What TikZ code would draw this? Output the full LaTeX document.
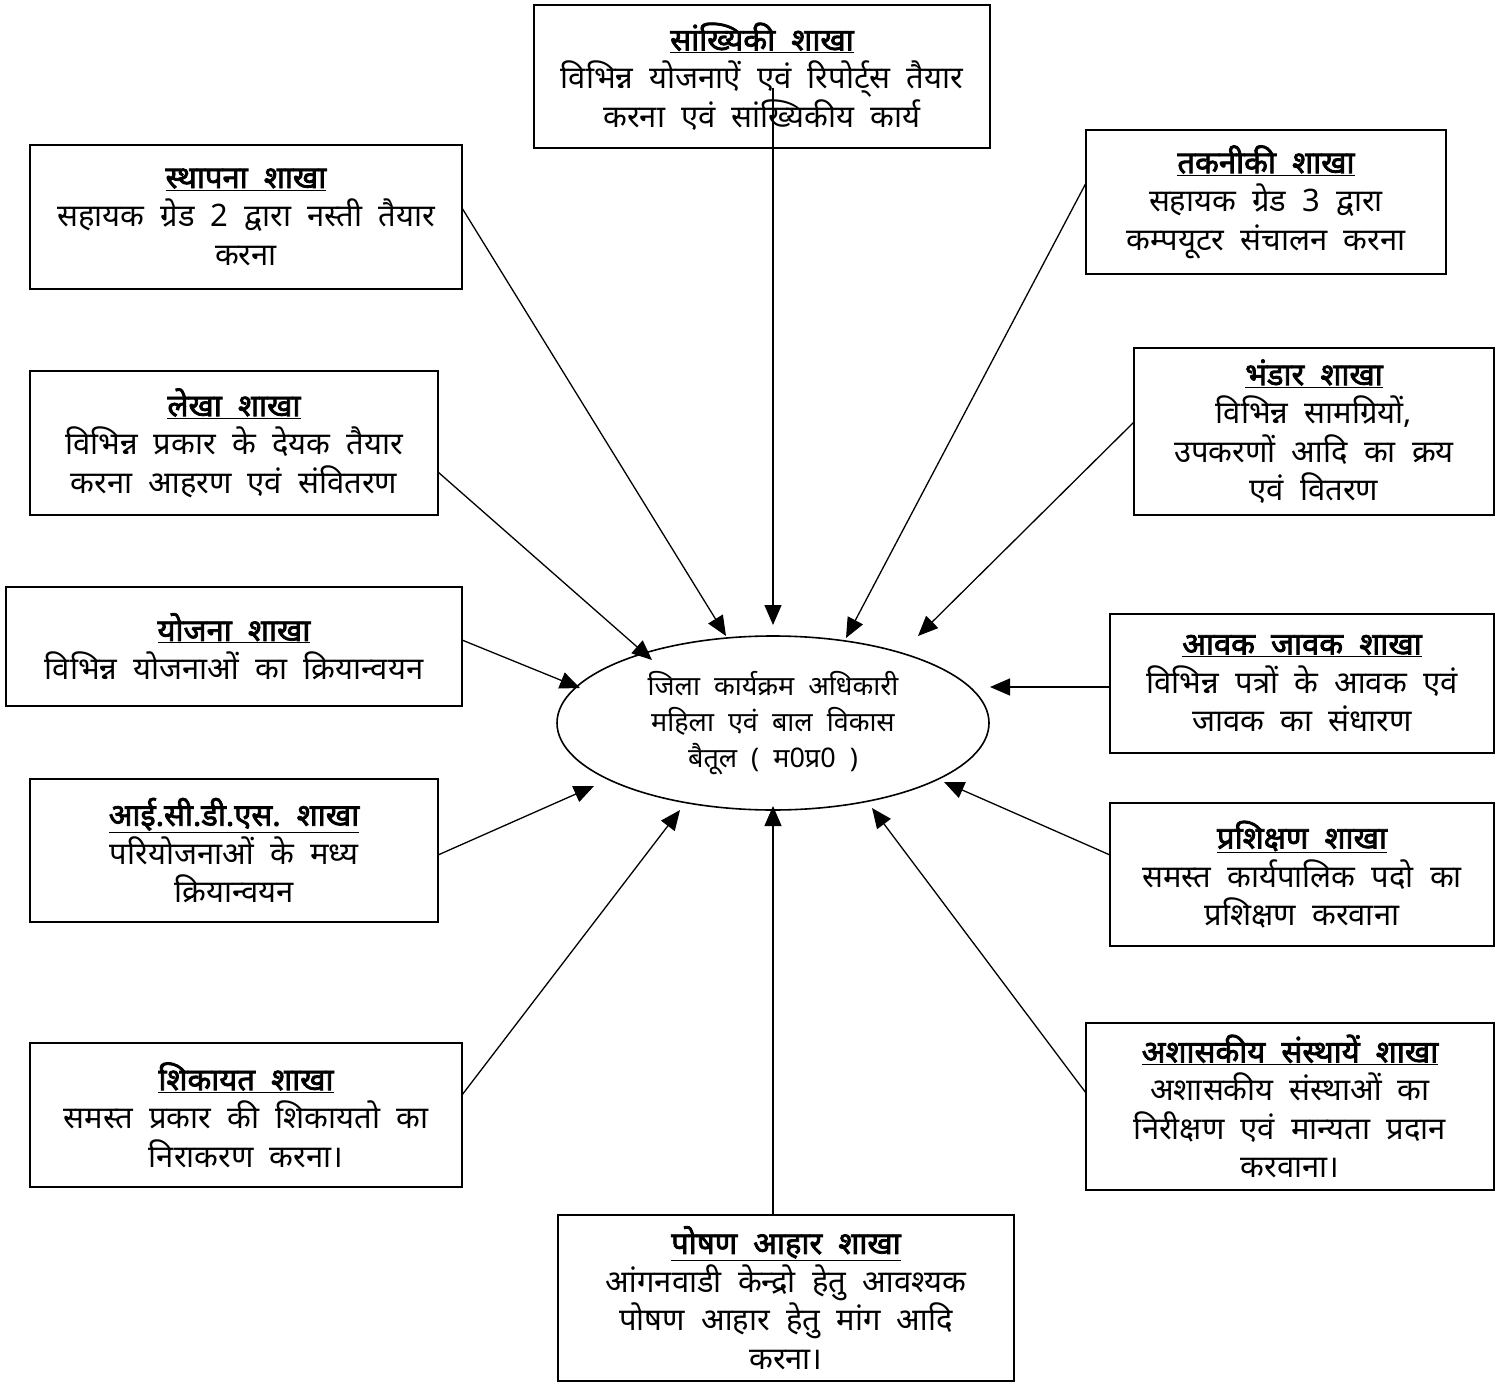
\documentclass[tikz,border=0pt]{standalone}
\usepackage{fontspec}
\setmainfont{Noto Sans}[Script=Devanagari, WordSpace=2.0, BoldFont={Noto Sans}, BoldFeatures={FakeBold=2.5}]
\usetikzlibrary{arrows.meta,shapes.geometric}
\newcommand{\ttl}[1]{\textbf{\underline{#1}}}
\frenchspacing
\begin{document}
\begin{tikzpicture}[x=1pt,y=-1pt,
  box/.style={draw, line width=1.6pt, align=center, inner sep=0pt, font=\fontsize{31}{38.5}\selectfont},
  arr/.style={line width=1.3pt, -{Triangle[length=20pt,width=17pt]}}]
\useasboundingbox (0,0) rectangle (1507,1383);
\node[box, minimum width=456pt, minimum height=143pt] (b1) at (762,76.5) {\ttl{सांख्यिकी शाखा}\\ विभिन्न योजनाऐं एवं रिपोर्ट्स तैयार\\ करना एवं सांख्यिकीय कार्य};
\node[box, minimum width=432pt, minimum height=144pt] (b2) at (246,217) {\ttl{स्थापना शाखा}\\ सहायक ग्रेड 2 द्वारा नस्ती तैयार\\ करना};
\node[box, minimum width=360pt, minimum height=144pt] (b3) at (1266,202) {\ttl{तकनीकी शाखा}\\ सहायक ग्रेड 3 द्वारा\\ कम्पयूटर संचालन करना};
\node[box, minimum width=408pt, minimum height=144pt] (b4) at (234,443) {\ttl{लेखा शाखा}\\ विभिन्न प्रकार के देयक तैयार\\ करना आहरण एवं संवितरण};
\node[box, minimum width=360pt, minimum height=167pt] (b5) at (1314,431.5) {\ttl{भंडार शाखा}\\ विभिन्न सामग्रियों,\\ उपकरणों आदि का क्रय\\ एवं वितरण};
\node[box, minimum width=456pt, minimum height=119pt] (b6) at (234,646.5) {\ttl{योजना शाखा}\\ विभिन्न योजनाओं का क्रियान्वयन};
\node[box, minimum width=384pt, minimum height=139pt] (b7) at (1302,683.5) {\ttl{आवक जावक शाखा}\\ विभिन्न पत्रों के आवक एवं\\ जावक का संधारण};
\node[box, minimum width=408pt, minimum height=143pt] (b8) at (234,850.5) {\ttl{आई.सी.डी.एस. शाखा}\\ परियोजनाओं के मध्य\\ क्रियान्वयन};
\node[box, minimum width=384pt, minimum height=143pt] (b9) at (1302,874.5) {\ttl{प्रशिक्षण शाखा}\\ समस्त कार्यपालिक पदो का\\ प्रशिक्षण करवाना};
\node[box, minimum width=432pt, minimum height=144pt] (b10) at (246,1115) {\ttl{शिकायत शाखा}\\ समस्त प्रकार की शिकायतो का\\ निराकरण करना।};
\node[box, minimum width=408pt, minimum height=167pt] (b11) at (1290,1106.5) {\ttl{अशासकीय संस्थायें शाखा}\\ अशासकीय संस्थाओं का\\ निरीक्षण एवं मान्यता प्रदान\\ करवाना।};
\node[box, minimum width=456pt, minimum height=166pt] (b12) at (786,1298) {\ttl{पोषण आहार शाखा}\\ आंगनवाडी केन्द्रो हेतु आवश्यक\\ पोषण आहार हेतु मांग आदि\\ करना।};
\node[ellipse, draw, line width=1.6pt, minimum width=432pt, minimum height=174pt, inner sep=0pt, align=center, font=\fontsize{27}{36}\selectfont] (e) at (773,723) {जिला कार्यक्रम अधिकारी\\ महिला एवं बाल विकास\\ बैतूल ( म0प्र0 )};
\coordinate (s1) at (773,88);   \coordinate (t1) at (773,625);
\coordinate (s2) at (462,208);  \coordinate (t2) at (726,636);
\coordinate (s3) at (1086,183); \coordinate (t3) at (846,638);
\coordinate (s4) at (438,472);  \coordinate (t4) at (652,660);
\coordinate (s5) at (1134,422); \coordinate (t5) at (918,636);
\coordinate (s6) at (462,640);  \coordinate (t6) at (580,688);
\coordinate (s7) at (1110,687); \coordinate (t7) at (990,687);
\coordinate (s8) at (438,855);  \coordinate (t8) at (594,786);
\coordinate (s9) at (1110,855); \coordinate (t9) at (944,782);
\coordinate (s10) at (462,1095); \coordinate (t10) at (680,810);
\coordinate (s11) at (1086,1093); \coordinate (t11) at (872,808);
\coordinate (s12) at (773,1215); \coordinate (t12) at (773,806);
\foreach \i in {1,...,12} {\draw[arr] (s\i) -- (t\i);}
\end{tikzpicture}
\end{document}
